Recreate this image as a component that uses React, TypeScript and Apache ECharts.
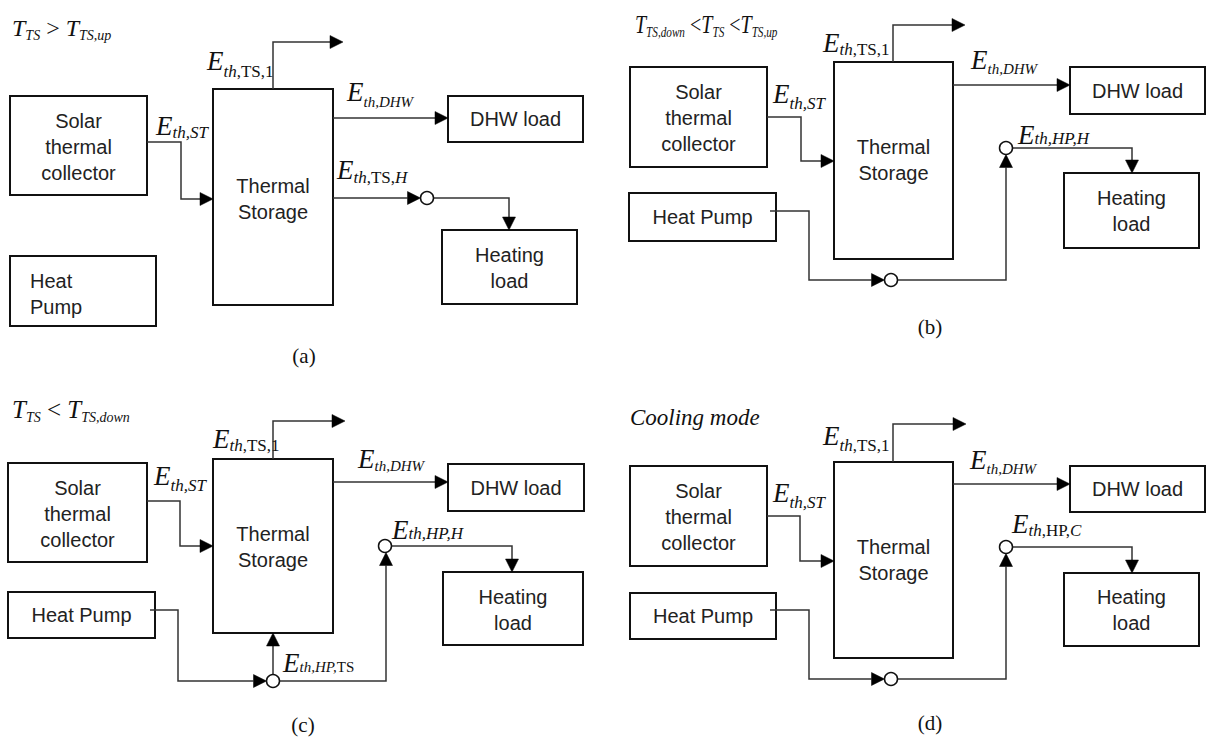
import React, { useEffect, useRef } from "react";
import * as echarts from "echarts";

// ---- text content ----
const SOLAR = ["Solar", "thermal", "collector"];
const STORAGE = ["Thermal", "Storage"];
const DHW = ["DHW load"];
const HEATING = ["Heating", "load"];
const HEAT_PUMP = ["Heat Pump"];
const HEAT_PUMP_A = ["Heat", "Pump"];
const CAPTIONS = ["(a)", "(b)", "(c)", "(d)"];

type Tok = [string, string];
const TITLE_A: Tok[] = [["T", "T"], ["t", "TS"], ["o", " > "], ["T", "T"], ["t", "TS,up"]];
const TITLE_B: Tok[] = [["T", "T"], ["t", "TS,down"], ["o", " <"], ["T", "T"], ["t", "TS"], ["o", " <"], ["T", "T"], ["t", "TS,up"]];
const TITLE_C: Tok[] = [["T", "T"], ["t", "TS"], ["o", " < "], ["T", "T"], ["t", "TS,down"]];
const TITLE_D = "Cooling mode";

const E_ST: Tok[] = [["E", "E"], ["i", "th,ST"]];
const E_TS1: Tok[] = [["E", "E"], ["i", "th"], ["r", ",TS,1"]];
const E_DHW: Tok[] = [["E", "E"], ["ci", "th,DHW"]];
const E_TSH: Tok[] = [["E", "E"], ["i", "th"], ["r", ",TS,"], ["i", "H"]];
const E_HPH: Tok[] = [["E", "E"], ["i", "th,HP,H"]];
const E_HPTS: Tok[] = [["E", "E"], ["ci", "th,HP,"], ["cr", "TS"]];
const E_HPC: Tok[] = [["E", "E"], ["i", "th"], ["r", ",HP,"], ["i", "C"]];

// ---- styles ----
const SANS = "'Liberation Sans', Arial, sans-serif";
const SERIF = "'Liberation Serif', 'Times New Roman', serif";
const LINE = "#333";
const AL = 13;
const AW = 6.5;
const ES = 27; // E font size
const MID = 0.3375; // baseline offset from text middle, in em

// E line height giving the wanted drop of the subscript baseline below E's baseline
const eLine = (drop: number) => 2 * (drop + 8.5 - MID * 17 + MID * ES);

function richE(drop: number): any {
  const EL = eLine(drop);
  return {
    E: { fontFamily: SERIF, fontStyle: "italic", fontSize: ES, lineHeight: EL, verticalAlign: "middle", fill: "#111" },
    i: { fontFamily: SERIF, fontStyle: "italic", fontSize: 17, lineHeight: 10, verticalAlign: "bottom", fill: "#111" },
    r: { fontFamily: SERIF, fontSize: 17, lineHeight: 10, verticalAlign: "bottom", fill: "#111" },
    ci: { fontFamily: SERIF, fontStyle: "italic", fontSize: 15, lineHeight: 10, verticalAlign: "bottom", fill: "#111" },
    cr: { fontFamily: SERIF, fontSize: 15, lineHeight: 10, verticalAlign: "bottom", fill: "#111" },
  };
}

function richTitle(size: number, sub: number): any {
  return {
    T: { fontFamily: SERIF, fontStyle: "italic", fontSize: size, lineHeight: 30, verticalAlign: "middle", fill: "#111" },
    t: { fontFamily: SERIF, fontStyle: "italic", fontSize: sub, lineHeight: 13, verticalAlign: "bottom", fill: "#111" },
    o: { fontFamily: SERIF, fontSize: size, lineHeight: 30, verticalAlign: "middle", fill: "#111" },
  };
}

const richStr = (toks: Tok[]) => toks.map(([k, t]) => `{${k}|${t}}`).join("");

function box(x1: number, y1: number, x2: number, y2: number) {
  return {
    type: "rect",
    shape: { x: x1, y: y1, width: x2 - x1, height: y2 - y1 },
    style: { fill: "#fff", stroke: "#111", lineWidth: 2 },
    z: 1,
  };
}

function label(x: number, y: number, lines: string[], align = "center") {
  return {
    type: "text",
    x,
    y,
    style: {
      text: lines.join("\n"),
      fontFamily: SANS,
      fontSize: 20,
      lineHeight: 26,
      fill: "#222",
      align,
      verticalAlign: "middle",
    },
    z: 3,
  };
}

function conn(pts: number[][], arrow: boolean) {
  const out: any[] = [];
  const p = pts.map((q) => [q[0], q[1]]);
  if (arrow) {
    const n = p.length;
    const [tx, ty] = p[n - 1];
    const [px, py] = p[n - 2];
    const dx = tx - px;
    const dy = ty - py;
    const L = Math.hypot(dx, dy);
    const ux = dx / L;
    const uy = dy / L;
    const bx = tx - ux * AL;
    const by = ty - uy * AL;
    p[n - 1] = [bx, by];
    out.push({
      type: "polygon",
      shape: { points: [[tx, ty], [bx - uy * AW, by + ux * AW], [bx + uy * AW, by - ux * AW]] },
      style: { fill: "#000", stroke: "#000", lineWidth: 0.5 },
      z: 4,
    });
  }
  out.unshift({
    type: "polyline",
    shape: { points: p },
    style: { stroke: LINE, lineWidth: 1.5, fill: null },
    z: 2,
  });
  return out;
}

function node(x: number, y: number) {
  return {
    type: "circle",
    shape: { cx: x, cy: y, r: 6.5 },
    style: { fill: "#fff", stroke: "#111", lineWidth: 1.5 },
    z: 5,
  };
}

function math(x: number, b: number, toks: Tok[], drop: number) {
  const EL = eLine(drop);
  return {
    type: "text",
    x,
    y: b - (EL / 2 + MID * ES),
    style: { text: richStr(toks), rich: richE(drop), align: "left", verticalAlign: "top" },
    z: 6,
  };
}

function title(x: number, b: number, toks: Tok[], size: number, sub: number, sx = 1) {
  return {
    type: "text",
    x,
    y: b - (15 + MID * size),
    scaleX: sx,
    style: { text: richStr(toks), rich: richTitle(size, sub), align: "left", verticalAlign: "top" },
    z: 6,
  };
}

function caption(x: number, y: number, t: string) {
  return {
    type: "text",
    x,
    y,
    style: { text: t, fontFamily: SERIF, fontSize: 21, fill: "#111", align: "center", verticalAlign: "middle" },
    z: 6,
  };
}

function buildElements() {
  const els: any[] = [];
  // ---------- (a) ----------
  els.push(
    title(12, 36, TITLE_A, 24, 14),
    box(10, 96, 147, 195), label(78.5, 147, SOLAR),
    box(213, 89, 333, 305), label(273, 198.5, STORAGE),
    box(448, 96, 583, 142), label(515.5, 119, DHW),
    box(442, 230, 577, 304), label(509.5, 267.5, HEATING),
    box(10, 256, 156, 326), label(30, 293.5, HEAT_PUMP_A, "left"),
    ...conn([[147, 142], [181, 142], [181, 199], [213, 199]], true),
    ...conn([[273, 89], [273, 42], [343, 42]], true),
    ...conn([[333, 118], [448, 118]], true),
    ...conn([[333, 198], [420.5, 198]], true),
    node(427, 198),
    ...conn([[433.5, 198], [509, 198], [509, 230]], true),
    math(156, 135, E_ST, 3), math(207, 70, E_TS1, 7), math(347, 101, E_DHW, 6), math(337, 179, E_TSH, 4),
    caption(304, 356, CAPTIONS[0])
  );
  // ---------- (b) ----------
  els.push(
    title(635, 33, TITLE_B, 25, 14, 0.8),
    box(630, 67, 767, 167), label(698.5, 118, SOLAR),
    box(834, 62, 953, 259), label(893.5, 160, STORAGE),
    box(1070, 67, 1205, 114), label(1137.5, 91, DHW),
    box(1064, 173, 1199, 248), label(1131.5, 211, HEATING),
    box(629, 193, 776, 241), label(702.5, 217, HEAT_PUMP),
    ...conn([[767, 117], [801, 117], [801, 161], [834, 161]], true),
    ...conn([[893, 62], [893, 25], [965, 25]], true),
    ...conn([[953, 85], [1070, 85]], true),
    node(1006, 148),
    ...conn([[1012.5, 148], [1132, 148], [1132, 173]], true),
    ...conn([[770, 211], [809, 211], [809, 280], [884.5, 280]], true),
    node(891, 280),
    ...conn([[897.5, 280], [1006, 280], [1006, 154.5]], true),
    math(773, 103, E_ST, 6), math(823, 52, E_TS1, 3), math(971, 69, E_DHW, 5), math(1018, 144, E_HPH, 0),
    caption(930, 327, CAPTIONS[1])
  );
  // ---------- (c) ----------
  els.push(
    title(12, 418, TITLE_C, 25, 14),
    box(8, 463, 147, 562), label(77.5, 514, SOLAR),
    box(213, 459, 333, 633), label(273, 546.5, STORAGE),
    box(448, 464, 584, 511), label(516, 487.5, DHW),
    box(443, 572, 583, 645), label(513, 609.5, HEATING),
    box(8, 592, 155, 638), label(81.5, 615, HEAT_PUMP),
    ...conn([[147, 501], [180, 501], [180, 546], [213, 546]], true),
    ...conn([[273, 459], [273, 421], [345, 421]], true),
    ...conn([[333, 482], [448, 482]], true),
    node(385, 546),
    ...conn([[391.5, 546], [512, 546], [512, 572]], true),
    ...conn([[150, 610], [178, 610], [178, 681], [266.5, 681]], true),
    node(273, 681),
    ...conn([[273, 674.5], [273, 633]], true),
    ...conn([[279.5, 681], [386, 681], [386, 552.5]], true),
    math(154, 485, E_ST, 6), math(213, 448, E_TS1, 3), math(358, 468, E_DHW, 3), math(392, 539, E_HPH, 0), math(283, 672, E_HPTS, 0),
    caption(303, 725, CAPTIONS[2])
  );
  // ---------- (d) ----------
  els.push(
    {
      type: "text",
      x: 630,
      y: 417,
      style: { text: TITLE_D, fontFamily: SERIF, fontStyle: "italic", fontSize: 23, fill: "#111", align: "left", verticalAlign: "middle" },
      z: 6,
    },
    box(630, 466, 767, 566), label(698.5, 517, SOLAR),
    box(834, 462, 953, 658), label(893.5, 560, STORAGE),
    box(1070, 466, 1205, 512), label(1137.5, 489, DHW),
    box(1064, 573, 1199, 646), label(1131.5, 610, HEATING),
    box(630, 593, 776, 639), label(703, 616, HEAT_PUMP),
    ...conn([[767, 516], [800, 516], [800, 561], [834, 561]], true),
    ...conn([[893, 462], [893, 424], [966, 424]], true),
    ...conn([[953, 484], [1070, 484]], true),
    node(1006, 547),
    ...conn([[1012.5, 547], [1132, 547], [1132, 573]], true),
    ...conn([[770, 610], [809, 610], [809, 679], [884.5, 679]], true),
    node(891, 679),
    ...conn([[897.5, 679], [1006, 679], [1006, 553.5]], true),
    math(773, 502, E_ST, 6), math(823, 445, E_TS1, 6), math(970, 469, E_DHW, 5), math(1012, 533, E_HPC, 3),
    caption(930, 723, CAPTIONS[3])
  );
  return els;
}

export default function App() {
  const ref = useRef<HTMLDivElement>(null);
  useEffect(() => {
    if (!ref.current) return;
    const chart = echarts.init(ref.current, undefined, { renderer: "svg" });
    chart.setOption({
      animation: false,
      backgroundColor: "#fff",
      graphic: { elements: buildElements() },
    });
    return () => chart.dispose();
  }, []);
  return (
    <div
      ref={ref}
      style={{ position: "fixed", left: 0, top: 0, width: 1206, height: 737, background: "#fff" }}
    />
  );
}
